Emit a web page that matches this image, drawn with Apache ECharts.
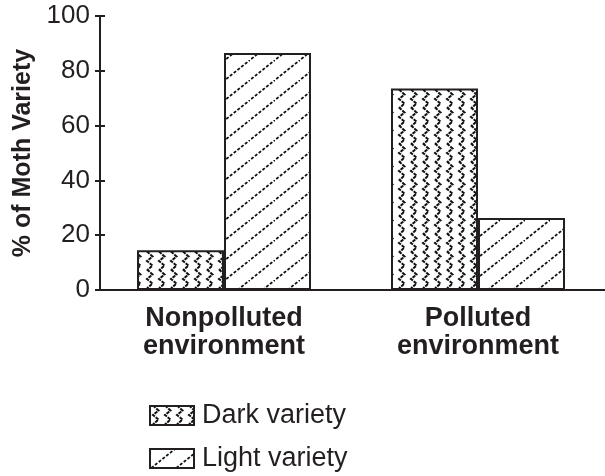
<!DOCTYPE html>
<html>
<head>
<meta charset="utf-8">
<script src="https://cdn.jsdelivr.net/npm/echarts@6/dist/echarts.min.js"></script>
<style>
html,body{margin:0;padding:0;background:#fff;}
#chart{width:605px;height:476px;}
</style>
</head>
<body>
<div id="chart"></div>
<script>
// ---- data ----
const categories = ['Nonpolluted\nenvironment', 'Polluted\nenvironment'];
const seriesNames = ['Dark variety', 'Light variety'];
const darkValues = [14.5, 73.5];
const lightValues = [86.5, 26.3];
const yTicks = [0, 20, 40, 60, 80, 100];

// ---- patterns (styling only) ----
function zigzagPattern() {
  const W = 12, H = 18;
  const c = document.createElement('canvas');
  c.width = W; c.height = H;
  const g = c.getContext('2d');
  g.fillStyle = '#fff'; g.fillRect(0, 0, W, H);
  g.strokeStyle = '#111'; g.lineWidth = 2;
  g.setLineDash([3.5, 1]);
  g.beginPath();
  g.moveTo(3, -0.5); g.lineTo(8.5, 4.5); g.lineTo(3, 9); g.lineTo(8.5, 13.5); g.lineTo(3, 18.5);
  g.stroke();
  return c;
}
function diagPattern() {
  const W = 25, H = 20;
  const c = document.createElement('canvas');
  c.width = W; c.height = H;
  const g = c.getContext('2d');
  g.fillStyle = '#fff'; g.fillRect(0, 0, W, H);
  g.strokeStyle = '#111'; g.lineWidth = 1.8;
  g.setLineDash([3, 1.8]);
  g.beginPath();
  g.moveTo(-W, 2 * H); g.lineTo(2 * W, -H);
  g.stroke();
  return c;
}

const chart = echarts.init(document.getElementById('chart'), null, {renderer: 'canvas'});
const FONT = '"Liberation Sans", Arial, Helvetica, sans-serif';
const TXT = '#231f20';
const LEG = {
  orient: 'vertical', left: 144,
  itemWidth: 44, itemHeight: 19,
  icon: 'rect',
  textStyle: { fontFamily: FONT, fontSize: 27, color: TXT, padding: [0, 0, 0, 3] }
};

chart.setOption({
  animation: false,
  backgroundColor: '#fff',
  grid: { left: 97, top: 16, bottom: 186, right: -12, containLabel: false },
  legend: [
    Object.assign({}, LEG, { top: 397, data: [seriesNames[0]] }),
    Object.assign({}, LEG, { top: 440, data: [seriesNames[1]] })
  ],
  xAxis: {
    type: 'category',
    data: categories,
    axisLine: { lineStyle: { color: '#231f20', width: 2 } },
    axisTick: { show: false },
    axisLabel: {
      fontFamily: FONT, fontSize: 27, fontWeight: 'bold', color: TXT,
      lineHeight: 28, margin: 15
    }
  },
  yAxis: [{
    type: 'value',
    min: 0, max: 100, interval: 20,
    offset: -3,
    name: '% of Moth Variety',
    nameLocation: 'middle',
    nameGap: 58,
    nameRotate: 90,
    nameTextStyle: { fontFamily: FONT, fontSize: 25, fontWeight: 'bold', color: TXT },
    axisLine: { show: true, lineStyle: { color: '#231f20', width: 2 } },
    axisTick: { show: true, length: 5, lineStyle: { color: '#231f20', width: 2 } },
    splitLine: { show: false },
    axisLabel: {
      fontFamily: FONT, fontSize: 26, color: TXT, margin: 10,
      formatter: v => (yTicks.indexOf(v) >= 0 ? String(v) : '')
    }
  }, {
    type: 'value',
    position: 'left',
    min: 0, max: 100, interval: 20,
    offset: -3,
    axisLine: { show: false },
    axisTick: { show: true, inside: true, length: 5, lineStyle: { color: '#231f20', width: 2 } },
    axisLabel: { show: false },
    splitLine: { show: false }
  }],
  series: [
    {
      name: seriesNames[0], type: 'bar', data: darkValues,
      barWidth: 87, barGap: '0%',
      itemStyle: { color: { image: zigzagPattern(), repeat: 'repeat' }, borderColor: '#231f20', borderWidth: 2 }
    },
    {
      name: seriesNames[1], type: 'bar', data: lightValues,
      barWidth: 87, barGap: '0%',
      itemStyle: { color: { image: diagPattern(), repeat: 'repeat' }, borderColor: '#231f20', borderWidth: 2 }
    }
  ]
});
</script>
</body>
</html>
